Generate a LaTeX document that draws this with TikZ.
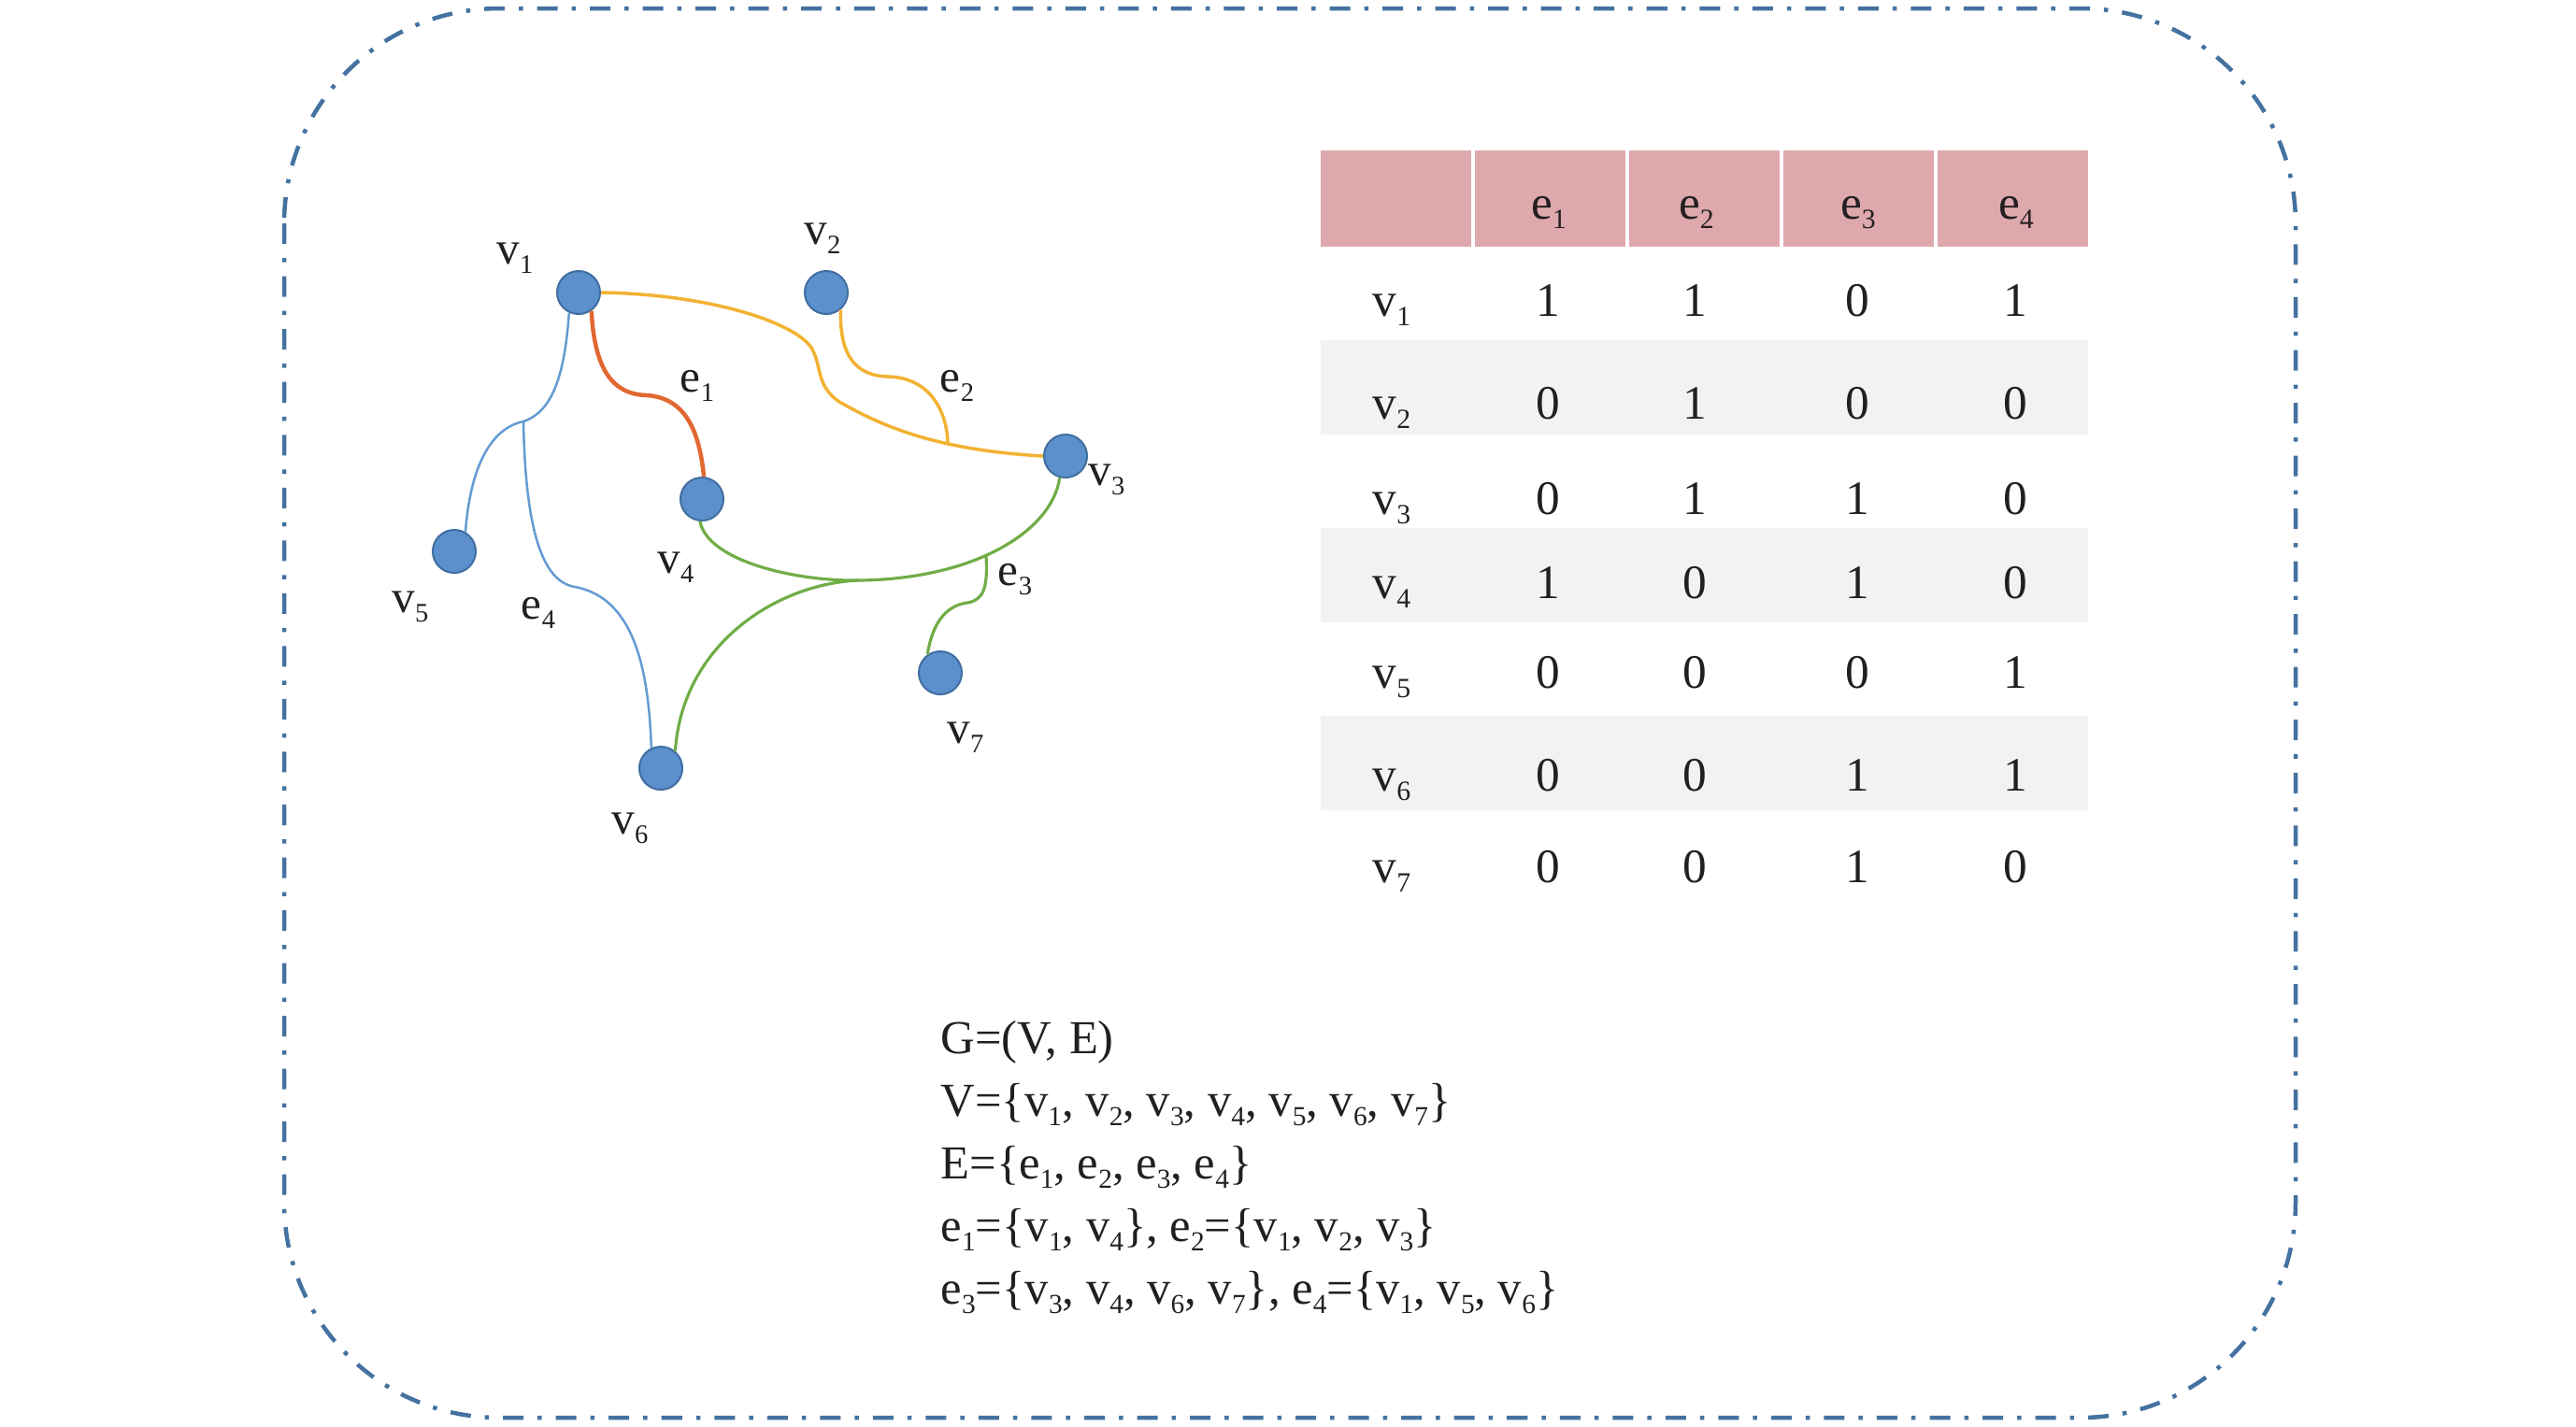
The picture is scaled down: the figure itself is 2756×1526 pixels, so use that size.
\documentclass[tikz,border=0pt]{standalone}
\usepackage{fontspec}
\setmainfont{Liberation Serif}
\usetikzlibrary{positioning}
\definecolor{frameblue}{RGB}{68,114,160}
\definecolor{vertexblue}{RGB}{91,144,204}
\definecolor{vertexrim}{RGB}{65,110,160}
\definecolor{eonecol}{RGB}{226,104,50}
\definecolor{etwocol}{RGB}{242,178,50}
\definecolor{ethreecol}{RGB}{112,173,71}
\definecolor{efourcol}{RGB}{100,155,210}
\definecolor{headpink}{RGB}{222,168,173}
\definecolor{rowgray}{RGB}{242,242,242}
\definecolor{inkblack}{RGB}{35,31,32}
\newcommand{\ix}[1]{\raisebox{-0.2em}{\scalebox{0.58}{#1}}}
\tikzset{vertex/.style={circle,fill=vertexblue,draw=vertexrim,line width=0.02cm,minimum size=0.46cm,inner sep=0pt},
         lbl/.style={font=\fontsize{14}{17}\selectfont,text=inkblack,inner sep=0pt},
         cell/.style={font=\fontsize{14.6}{18}\selectfont,text=inkblack,inner sep=0pt},
         defs/.style={font=\fontsize{14.4}{18}\selectfont,text=inkblack,inner sep=0pt,anchor=base west},
         eone/.style={draw=eonecol,line width=0.045cm},
         etwo/.style={draw=etwocol,line width=0.035cm},
         ethree/.style={draw=ethreecol,line width=0.032cm},
         efour/.style={draw=efourcol,line width=0.025cm},
            }

\begin{document}
\begin{tikzpicture}[x=0.01cm,y=-0.01cm]
    \useasboundingbox (0,0) rectangle (2756,1526);
    % frame
    \draw[frameblue,line width=0.045cm,rounded corners=2.3cm,
          dash pattern=on 0.22cm off 0.15cm on 0.045cm off 0.15cm]
        (304,9) rectangle (2456,1517);

    % hypergraph
    \node[vertex] (v1) at (619,313) {};
    \node[vertex] (v2) at (884,313) {};
    \node[vertex] (v3) at (1140,488) {};
    \node[vertex] (v4) at (751,534) {};
    \node[vertex] (v5) at (486,590) {};
    \node[vertex] (v6) at (707,822) {};
    \node[vertex] (v7) at (1006,720) {};

    \coordinate (j2) at (1014,474);
    \coordinate (j3) at (918,621);
    \coordinate (j4) at (560,451);
    \coordinate (j7) at (1055,595);

    \path[eone] (v1.-55) .. controls (636,395) and (655,422) .. (692,423)
        .. controls (738,426) and (749,470) .. (v4.85);
    \path[etwo] (v1.east) .. controls (760,315) and (850,345) .. (868,372)
        .. controls (880,392) and (872,412) .. (898,430)
        .. controls (950,460) and (1010,482) .. (v3.west);
    \path[etwo] (v2.-50) .. controls (898,380) and (915,402) .. (950,403)
        .. controls (995,404) and (1013,440) .. (j2);
    \path[ethree] (v4.-95) .. controls (757,600) and (850,622) .. (j3)
        .. controls (1040,620) and (1125,570) .. (v3.-105);
    \path[ethree] (j3) .. controls (830,625) and (730,690) .. (v6.50);
    \path[ethree] (j7) .. controls (1057,630) and (1052,642) .. (1035,645)
        .. controls (1010,648) and (997,670) .. (v7.125);
    \path[efour] (v1.-115) .. controls (604,400) and (592,440) .. (j4);
    \path[efour] (j4) .. controls (525,458) and (503,500) .. (v5.60);
    \path[efour] (j4) .. controls (562,560) and (578,622) .. (615,628)
        .. controls (680,640) and (694,720) .. (v6.115);

    \node[lbl] (lv1) at (551,276) {v\ix{1}};
    \node[lbl] (lv2) at (880,255) {v\ix{2}};
    \node[lbl] (lv3) at (1184,513) {v\ix{3}};
    \node[lbl] (lv4) at (723,607) {v\ix{4}};
    \node[lbl] (lv5) at (439,649) {v\ix{5}};
    \node[lbl] (lv6) at (674,886) {v\ix{6}};
    \node[lbl] (lv7) at (1033,789) {v\ix{7}};
    \node[lbl] (le1) at (746,413) {e\ix{1}};
    \node[lbl] (le2) at (1024,413) {e\ix{2}};
    \node[lbl] (le3) at (1086,620) {e\ix{3}};
    \node[lbl] (le4) at (576,656) {e\ix{4}};

    % incidence table
    \foreach \k in {0,...,4}
        \fill[headpink] ({1413+165*\k},161) rectangle ++(161,103);
    \foreach \y in {364,565,766}
        \fill[rowgray] (1413,\y) rectangle (2234,{\y+101});
    \foreach \k/\x in {1/1657,2/1815,3/1988,4/2157}
        \node[cell,anchor=base] (h\k) at (\x,234) {e\ix{\k}};
    \foreach \r/\y/\ea/\eb/\ec/\ed in {1/338/1/1/0/1,2/448/0/1/0/0,3/550/0/1/1/0,
            4/640/1/0/1/0,5/736/0/0/0/1,6/846/0/0/1/1,7/944/0/0/1/0}{
        \node[cell,anchor=base west] (r\r) at (1468,\y) {v\ix{\r}};
        \node[cell,anchor=base] (r\r-1) at (1656,\y) {\ea};
        \node[cell,anchor=base] (r\r-2) at (1813,\y) {\eb};
        \node[cell,anchor=base] (r\r-3) at (1987,\y) {\ec};
        \node[cell,anchor=base] (r\r-4) at (2156,\y) {\ed};
    }

    % definitions
    \node[defs] (gdef) at (1006,1127) {G=(V, E)};
    \node[defs] (vdef) at (1006,1194)
        {V=\{v\ix{1}, v\ix{2}, v\ix{3}, v\ix{4}, v\ix{5}, v\ix{6}, v\ix{7}\}};
    \node[defs] (edef) at (1006,1261) {E=\{e\ix{1}, e\ix{2}, e\ix{3}, e\ix{4}\}};
    \node[defs] (eadef) at (1006,1328)
        {e\ix{1}=\{v\ix{1}, v\ix{4}\}, e\ix{2}=\{v\ix{1}, v\ix{2}, v\ix{3}\}};
    \node[defs] (ebdef) at (1006,1395)
        {e\ix{3}=\{v\ix{3}, v\ix{4}, v\ix{6}, v\ix{7}\}, e\ix{4}=\{v\ix{1}, v\ix{5}, v\ix{6}\}};
\end{tikzpicture}
\end{document}
